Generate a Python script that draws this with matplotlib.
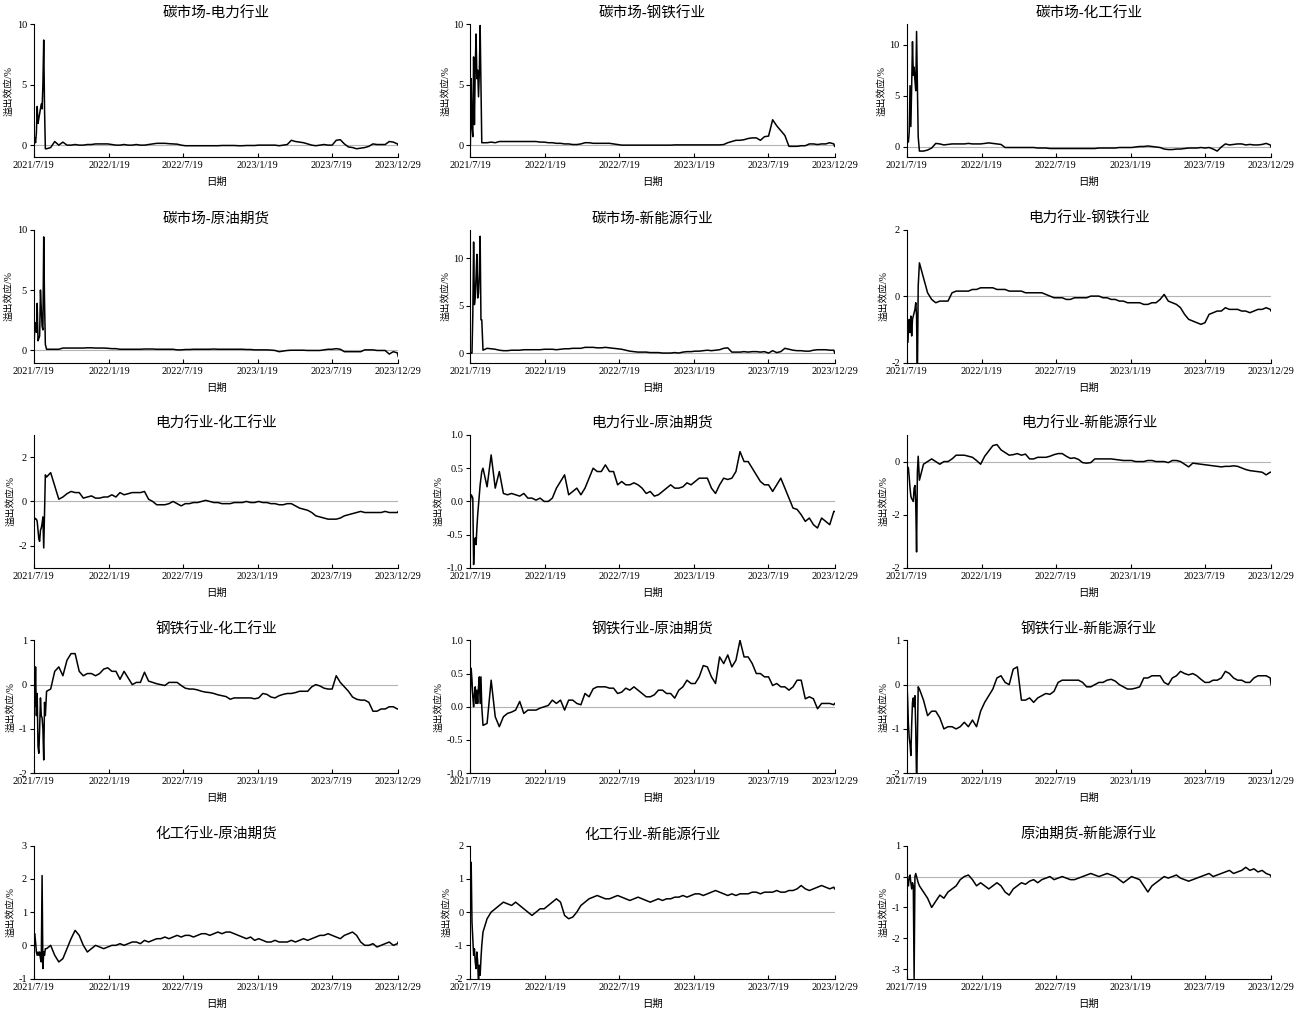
import numpy as np
import matplotlib.pyplot as plt

plt.rcParams['font.family'] = ['Liberation Serif', 'Noto Sans CJK SC']
plt.rcParams['axes.unicode_minus'] = False

# sampling grid: every 2 days for the first month, then every 10 days
start = np.datetime64('2021-07-19')
early_days = np.arange(0, 29, 2)
late_days = np.append(np.arange(31, 892, 10), 893)
dates = start + np.concatenate([early_days, late_days]).astype('timedelta64[D]')

tick_dates = np.array(['2021-07-19', '2022-01-19', '2022-07-19',
                       '2023-01-19', '2023-07-19', '2023-12-29'], dtype='datetime64[D]')
tick_labels = ['2021/7/19', '2022/1/19', '2022/7/19', '2023/1/19', '2023/7/19', '2023/12/29']

titles = ['碳市场-电力行业', '碳市场-钢铁行业', '碳市场-化工行业',
          '碳市场-原油期货', '碳市场-新能源行业', '电力行业-钢铁行业',
          '电力行业-化工行业', '电力行业-原油期货', '电力行业-新能源行业',
          '钢铁行业-化工行业', '钢铁行业-原油期货', '钢铁行业-新能源行业',
          '化工行业-原油期货', '化工行业-新能源行业', '原油期货-新能源行业']

# ---- spillover series (%) ----
s01 = [0.0, 0.6, 0.2, 1.0, 3.2, 1.8, 2.2, 2.6, 3.0, 3.4, 3.0, 5.0, 8.7, 3.0, -0.3,
       -0.3, -0.2, 0.3, 0.0, 0.25, 0.0, 0.0, 0.05, 0.0, 0.0,
       0.05, 0.05, 0.1, 0.1, 0.1, 0.1, 0.05, 0.0, 0.0, 0.05,
       0.0, 0.0, 0.05, 0.0, 0.0, 0.05, 0.1, 0.15, 0.15, 0.15,
       0.12, 0.1, 0.08, 0.0, -0.05, -0.05, -0.05, -0.05, -0.05, -0.05,
       -0.05, -0.05, -0.05, -0.03, -0.03, -0.03, -0.03, -0.05, -0.05, -0.03,
       -0.03, -0.03, 0.0, 0.0, 0.0, 0.0, 0.0, -0.05, 0.0, 0.05,
       0.4, 0.3, 0.25, 0.2, 0.1, 0.0, -0.05, 0.0, 0.05, 0.0,
       0.0, 0.4, 0.45, 0.1, -0.15, -0.2, -0.3, -0.25, -0.2, -0.1,
       0.1, 0.05, 0.05, 0.05, 0.3, 0.25, 0.1, 0.0]
s02 = [0.0, 5.5, 1.5, 0.7, 7.3, 1.7, 6.5, 9.2, 5.5, 6.2, 4.0, 6.0, 9.9, 5.0, 0.2,
       0.2, 0.2, 0.25, 0.2, 0.3, 0.3, 0.3, 0.3, 0.3, 0.3,
       0.3, 0.3, 0.3, 0.3, 0.25, 0.25, 0.2, 0.2, 0.15, 0.15,
       0.1, 0.1, 0.05, 0.05, 0.1, 0.2, 0.2, 0.15, 0.15, 0.15,
       0.15, 0.15, 0.1, 0.05, 0.0, 0.0, 0.0, 0.0, 0.0, 0.0,
       0.0, 0.0, 0.0, 0.0, 0.0, 0.0, 0.0, 0.02, 0.02, 0.02,
       0.02, 0.02, 0.02, 0.02, 0.02, 0.02, 0.02, 0.02, 0.02, 0.05,
       0.2, 0.3, 0.4, 0.4, 0.45, 0.55, 0.6, 0.6, 0.4, 0.7,
       0.75, 2.1, 1.6, 1.2, 0.8, -0.1, -0.1, -0.1, -0.05, -0.05,
       0.1, 0.1, 0.05, 0.1, 0.1, 0.2, 0.1, -0.1]
s03 = [0.0, 0.6, 0.5, 1.5, 6.0, 2.0, 6.0, 10.3, 7.0, 7.8, 6.5, 5.5, 11.3, 6.0, 1.0,
       -0.4, -0.4, -0.3, -0.1, 0.35, 0.3, 0.2, 0.25, 0.3, 0.3,
       0.3, 0.3, 0.35, 0.3, 0.3, 0.3, 0.35, 0.4, 0.35, 0.3,
       0.25, -0.05, -0.05, -0.05, -0.05, -0.05, -0.05, -0.05, -0.05, -0.1,
       -0.1, -0.1, -0.15, -0.15, -0.15, -0.15, -0.15, -0.15, -0.15, -0.15,
       -0.15, -0.15, -0.15, -0.15, -0.1, -0.1, -0.1, -0.1, -0.1, -0.05,
       -0.05, -0.05, -0.05, 0.0, 0.05, 0.05, 0.1, 0.05, 0.0, -0.05,
       -0.2, -0.25, -0.25, -0.2, -0.2, -0.15, -0.1, -0.1, -0.1, -0.05,
       -0.1, -0.05, -0.2, -0.4, 0.0, 0.3, 0.2, 0.25, 0.3, 0.3,
       0.2, 0.25, 0.2, 0.2, 0.25, 0.35, 0.2, 0.0]
s04 = [0.0, 2.0, 2.3, 1.5, 3.9, 0.8, 1.0, 1.2, 5.0, 3.5, 2.0, 1.7, 9.4, 4.0, 0.5,
       0.1, 0.1, 0.1, 0.1, 0.2, 0.2, 0.2, 0.2, 0.2, 0.2,
       0.22, 0.22, 0.2, 0.2, 0.2, 0.18, 0.15, 0.15, 0.1, 0.1,
       0.1, 0.1, 0.1, 0.1, 0.12, 0.12, 0.12, 0.1, 0.1, 0.1,
       0.1, 0.1, 0.05, 0.05, 0.08, 0.08, 0.1, 0.1, 0.1, 0.1,
       0.1, 0.12, 0.1, 0.1, 0.1, 0.1, 0.1, 0.1, 0.1, 0.08,
       0.08, 0.05, 0.05, 0.05, 0.05, 0.03, 0.0, -0.1, -0.05, 0.0,
       0.02, 0.02, 0.02, 0.02, 0.0, 0.0, 0.0, 0.0, 0.05, 0.1,
       0.1, 0.15, 0.1, -0.1, -0.1, -0.1, -0.1, -0.1, 0.05, 0.05,
       0.05, 0.0, 0.0, 0.0, -0.3, -0.1, -0.2, -0.5]
s05 = [0.0, 0.0, 0.0, 4.0, 11.7, 5.1, 6.0, 8.0, 10.4, 5.8, 6.3, 8.5, 12.3, 3.5, 3.5,
       0.3, 0.5, 0.45, 0.4, 0.3, 0.25, 0.25, 0.3, 0.3, 0.3,
       0.35, 0.35, 0.35, 0.35, 0.35, 0.4, 0.4, 0.4, 0.35, 0.4,
       0.45, 0.45, 0.5, 0.5, 0.5, 0.6, 0.6, 0.6, 0.55, 0.55,
       0.6, 0.55, 0.5, 0.45, 0.4, 0.3, 0.2, 0.15, 0.1, 0.1,
       0.1, 0.05, 0.05, 0.05, 0.0, 0.0, 0.0, 0.05, 0.0, 0.1,
       0.15, 0.15, 0.2, 0.2, 0.25, 0.3, 0.25, 0.3, 0.35, 0.5,
       0.55, 0.1, 0.1, 0.1, 0.15, 0.1, 0.15, 0.15, 0.1, 0.15,
       0.0, 0.25, 0.05, 0.15, 0.5, 0.4, 0.3, 0.25, 0.25, 0.2,
       0.2, 0.3, 0.35, 0.35, 0.35, 0.3, 0.3, 0.0]
s06 = [-0.5, -1.4, -1.0, -0.7, -1.1, -0.6, -1.2, -0.7, -0.6, -0.5, -0.4, -0.2, -0.6, -2.5, 0.3,
       1.0, 0.55, 0.1, -0.1, -0.2, -0.15, -0.15, -0.15, 0.1, 0.15,
       0.15, 0.15, 0.15, 0.2, 0.2, 0.25, 0.25, 0.25, 0.25, 0.2,
       0.2, 0.2, 0.15, 0.15, 0.15, 0.15, 0.1, 0.1, 0.1, 0.1,
       0.1, 0.05, 0.0, -0.05, -0.05, -0.05, -0.1, -0.1, -0.05, -0.05,
       -0.05, -0.05, 0.0, 0.0, 0.0, -0.05, -0.05, -0.1, -0.1, -0.15,
       -0.15, -0.2, -0.2, -0.2, -0.2, -0.25, -0.25, -0.2, -0.2, -0.1,
       0.05, -0.15, -0.2, -0.25, -0.35, -0.55, -0.7, -0.75, -0.8, -0.85,
       -0.8, -0.55, -0.5, -0.45, -0.45, -0.35, -0.4, -0.4, -0.4, -0.45,
       -0.45, -0.5, -0.45, -0.4, -0.4, -0.35, -0.4, -0.45]
s07 = [-0.7, -0.75, -0.8, -0.8, -0.9, -1.3, -1.7, -1.8, -1.3, -1.2, -1.0, -0.7, -2.1, -0.5, 1.2,
       1.1, 1.3, 0.7, 0.1, 0.2, 0.35, 0.45, 0.4, 0.4, 0.15,
       0.2, 0.25, 0.15, 0.15, 0.2, 0.2, 0.3, 0.2, 0.4, 0.3,
       0.35, 0.4, 0.4, 0.4, 0.45, 0.1, 0.0, -0.15, -0.15, -0.15,
       -0.1, 0.0, -0.1, -0.2, -0.1, -0.1, -0.05, -0.05, 0.0, 0.05,
       0.0, -0.05, -0.05, -0.1, -0.1, -0.1, -0.05, -0.05, -0.05, 0.0,
       -0.05, -0.05, 0.0, -0.05, -0.05, -0.1, -0.1, -0.15, -0.15, -0.1,
       -0.1, -0.2, -0.3, -0.35, -0.4, -0.5, -0.65, -0.7, -0.75, -0.8,
       -0.8, -0.8, -0.75, -0.65, -0.6, -0.55, -0.5, -0.45, -0.5, -0.5,
       -0.5, -0.5, -0.5, -0.45, -0.5, -0.5, -0.5, -0.45]
s08 = [0.0, 0.1, 0.08, 0.05, -0.95, -0.6, -0.55, -0.65, -0.4, -0.2, -0.05, 0.1, 0.25, 0.35, 0.45,
       0.5, 0.22, 0.7, 0.2, 0.45, 0.12, 0.1, 0.12, 0.1, 0.08,
       0.12, 0.05, 0.05, 0.02, 0.05, 0.0, 0.0, 0.05, 0.2, 0.3,
       0.4, 0.1, 0.15, 0.2, 0.1, 0.2, 0.35, 0.5, 0.45, 0.45,
       0.55, 0.45, 0.45, 0.25, 0.3, 0.25, 0.25, 0.28, 0.25, 0.2,
       0.12, 0.15, 0.08, 0.1, 0.15, 0.2, 0.25, 0.2, 0.2, 0.22,
       0.28, 0.25, 0.3, 0.35, 0.35, 0.35, 0.2, 0.12, 0.25, 0.35,
       0.33, 0.35, 0.45, 0.75, 0.6, 0.6, 0.5, 0.4, 0.3, 0.25,
       0.25, 0.15, 0.25, 0.35, 0.2, 0.05, -0.1, -0.12, -0.2, -0.3,
       -0.25, -0.35, -0.4, -0.25, -0.3, -0.35, -0.15, -0.15]
s09 = [-0.1, -0.1, -0.12, -0.3, -0.5, -0.65, -0.7, -0.72, -0.75, -0.5, -0.45, -0.8, -1.7, -0.2, 0.1,
       -0.35, -0.05, 0.0, 0.05, 0.0, -0.05, 0.0, 0.0, 0.05, 0.12,
       0.12, 0.12, 0.1, 0.08, 0.02, -0.05, 0.1, 0.2, 0.3, 0.32,
       0.22, 0.17, 0.12, 0.13, 0.15, 0.12, 0.14, 0.05, 0.05, 0.08,
       0.08, 0.08, 0.1, 0.13, 0.15, 0.15, 0.1, 0.06, 0.07, 0.04,
       -0.02, -0.03, -0.02, 0.05, 0.05, 0.05, 0.05, 0.05, 0.04, 0.03,
       0.02, 0.02, 0.02, 0.0, 0.0, 0.0, 0.02, 0.02, 0.0, 0.0,
       0.0, -0.02, 0.02, 0.02, 0.0, -0.05, -0.1, -0.03, -0.04, -0.05,
       -0.06, -0.07, -0.08, -0.09, -0.1, -0.09, -0.09, -0.08, -0.09, -0.12,
       -0.15, -0.17, -0.18, -0.19, -0.2, -0.25, -0.2, -0.2]
s10 = [0.5, -0.5, 0.4, -0.7, -0.2, -1.4, -1.55, -1.0, -0.3, -0.7, -0.75, -1.0, -1.7, -0.4, -0.7,
       -0.15, -0.1, 0.3, 0.4, 0.2, 0.55, 0.7, 0.7, 0.3, 0.2,
       0.25, 0.25, 0.2, 0.25, 0.35, 0.38, 0.3, 0.3, 0.12, 0.3,
       0.15, 0.0, 0.05, 0.05, 0.28, 0.08, 0.05, 0.02, 0.0, -0.02,
       0.05, 0.05, 0.05, -0.02, -0.08, -0.1, -0.1, -0.12, -0.15, -0.17,
       -0.18, -0.2, -0.23, -0.25, -0.27, -0.33, -0.3, -0.3, -0.3, -0.3,
       -0.3, -0.32, -0.3, -0.2, -0.22, -0.28, -0.3, -0.25, -0.22, -0.2,
       -0.2, -0.18, -0.15, -0.15, -0.15, -0.05, 0.0, -0.03, -0.08, -0.1,
       -0.1, 0.2, 0.05, -0.05, -0.15, -0.28, -0.33, -0.35, -0.35, -0.4,
       -0.6, -0.6, -0.55, -0.55, -0.5, -0.5, -0.55, -0.55]
s11 = [0.2, 0.58, 0.4, 0.15, 0.0, 0.2, 0.3, 0.05, 0.25, 0.05, 0.3, 0.45, 0.05, 0.45, 0.0,
       -0.28, -0.25, 0.4, -0.15, -0.3, -0.15, -0.1, -0.08, -0.05, 0.08,
       -0.1, -0.05, -0.05, -0.05, -0.02, 0.0, 0.02, 0.1, 0.05, 0.1,
       -0.05, 0.1, 0.1, 0.05, 0.03, 0.2, 0.15, 0.27, 0.3, 0.3,
       0.3, 0.28, 0.28, 0.2, 0.22, 0.28, 0.25, 0.3, 0.25, 0.2,
       0.15, 0.15, 0.18, 0.25, 0.25, 0.2, 0.2, 0.13, 0.25, 0.3,
       0.4, 0.35, 0.35, 0.45, 0.62, 0.6, 0.45, 0.35, 0.75, 0.65,
       0.78, 0.6, 0.7, 1.0, 0.75, 0.75, 0.65, 0.5, 0.5, 0.45,
       0.45, 0.32, 0.35, 0.3, 0.3, 0.25, 0.3, 0.4, 0.4, 0.12,
       0.15, 0.12, -0.03, 0.05, 0.05, 0.05, 0.03, 0.05]
s12 = [0.1, -0.3, -0.9, -1.2, -1.35, -1.6, -0.9, -0.4, -0.3, -0.5, -0.25, -1.0, -2.2, -1.3, -0.05,
       -0.1, -0.35, -0.7, -0.6, -0.6, -0.75, -1.0, -0.95, -0.95, -1.0,
       -0.95, -0.85, -0.95, -0.8, -0.95, -0.6, -0.4, -0.25, -0.1, 0.15,
       0.2, 0.05, 0.0, 0.35, 0.4, -0.35, -0.35, -0.3, -0.4, -0.3,
       -0.25, -0.2, -0.22, -0.15, 0.05, 0.1, 0.1, 0.1, 0.1, 0.1,
       0.05, -0.05, -0.05, 0.0, 0.05, 0.05, 0.1, 0.12, 0.08, 0.0,
       -0.05, -0.1, -0.1, -0.08, -0.05, 0.15, 0.15, 0.2, 0.2, 0.2,
       0.05, 0.0, 0.15, 0.2, 0.3, 0.25, 0.22, 0.25, 0.2, 0.12,
       0.05, 0.05, 0.1, 0.1, 0.15, 0.3, 0.25, 0.15, 0.1, 0.1,
       0.05, 0.05, 0.15, 0.2, 0.2, 0.2, 0.15, 0.0]
s13 = [0.3, 0.35, 0.1, -0.2, -0.3, -0.2, -0.3, -0.2, -0.4, -0.5, 2.1, -0.7, -0.2, -0.3, -0.1,
       -0.1, 0.0, -0.3, -0.5, -0.4, -0.1, 0.2, 0.45, 0.3, 0.0,
       -0.2, -0.1, 0.0, -0.05, -0.1, -0.05, 0.0, 0.0, 0.05, 0.0,
       0.05, 0.1, 0.1, 0.05, 0.15, 0.1, 0.15, 0.2, 0.2, 0.25,
       0.2, 0.25, 0.3, 0.25, 0.3, 0.3, 0.25, 0.3, 0.35, 0.35,
       0.3, 0.35, 0.4, 0.35, 0.4, 0.4, 0.35, 0.3, 0.25, 0.2,
       0.25, 0.15, 0.2, 0.15, 0.1, 0.1, 0.15, 0.1, 0.1, 0.1,
       0.15, 0.1, 0.15, 0.2, 0.15, 0.2, 0.25, 0.3, 0.3, 0.35,
       0.3, 0.25, 0.2, 0.3, 0.35, 0.4, 0.3, 0.1, 0.0, 0.0,
       0.05, -0.05, 0.0, 0.05, 0.1, 0.0, 0.05, 0.1]
s14 = [0.5, 1.5, -0.3, -0.8, -1.3, -1.1, -1.5, -1.7, -1.2, -1.5, -2.2, -1.6, -1.9, -1.4, -1.0,
       -0.6, -0.2, 0.0, 0.1, 0.2, 0.3, 0.25, 0.2, 0.3, 0.2,
       0.1, 0.0, -0.1, 0.0, 0.1, 0.1, 0.2, 0.3, 0.4, 0.3,
       -0.1, -0.2, -0.15, 0.0, 0.2, 0.3, 0.4, 0.45, 0.5, 0.45,
       0.4, 0.4, 0.45, 0.5, 0.45, 0.4, 0.35, 0.4, 0.45, 0.4,
       0.35, 0.3, 0.35, 0.4, 0.35, 0.4, 0.4, 0.45, 0.45, 0.5,
       0.45, 0.5, 0.55, 0.55, 0.5, 0.55, 0.6, 0.65, 0.6, 0.55,
       0.5, 0.55, 0.5, 0.55, 0.55, 0.55, 0.6, 0.6, 0.55, 0.6,
       0.6, 0.6, 0.65, 0.6, 0.6, 0.65, 0.65, 0.7, 0.8, 0.7,
       0.65, 0.7, 0.75, 0.8, 0.75, 0.7, 0.75, 0.7]
s15 = [0.0, -0.1, -0.3, 0.0, 0.05, -0.2, -0.4, -0.2, -0.3, -3.3, 0.0, 0.1, 0.0, -0.1, -0.2,
       -0.3, -0.5, -0.7, -1.0, -0.8, -0.6, -0.7, -0.5, -0.4, -0.3,
       -0.1, 0.0, 0.05, -0.1, -0.3, -0.2, -0.3, -0.4, -0.3, -0.2,
       -0.3, -0.5, -0.6, -0.4, -0.3, -0.2, -0.25, -0.15, -0.1, -0.2,
       -0.1, -0.05, 0.0, -0.1, -0.05, 0.0, -0.05, -0.1, -0.1, -0.05,
       0.0, 0.05, 0.1, 0.05, 0.0, 0.05, 0.1, 0.05, 0.0, -0.1,
       -0.2, -0.1, 0.0, -0.05, -0.1, -0.3, -0.5, -0.3, -0.2, -0.1,
       0.0, -0.05, 0.0, 0.05, -0.05, -0.1, -0.15, -0.1, -0.05, 0.0,
       0.05, 0.1, 0.0, 0.05, 0.1, 0.15, 0.2, 0.1, 0.15, 0.2,
       0.3, 0.2, 0.25, 0.15, 0.2, 0.1, 0.05, 0.0]
series = [s01, s02, s03, s04, s05, s06, s07, s08, s09, s10, s11, s12, s13, s14, s15]

ylims = [(-1, 10), (-1, 10), (-1, 12), (-1, 10), (-1, 13), (-2, 2),
         (-3, 3), (-1, 1), (-2, 0.5), (-2, 1), (-1, 1), (-2, 1),
         (-1, 3), (-2, 2), (-3.3, 1)]
yticks = [[0, 5, 10], [0, 5, 10], [0, 5, 10], [0, 5, 10], [0, 5, 10], [-2, 0, 2],
          [-2, 0, 2], [-1, -0.5, 0, 0.5, 1], [-2, -1, 0], [-2, -1, 0, 1],
          [-1, -0.5, 0, 0.5, 1], [-2, -1, 0, 1], [-1, 0, 1, 2, 3], [-2, -1, 0, 1, 2],
          [-3, -2, -1, 0, 1]]
ytick_labels = [None] * 15
ytick_labels[7] = ['-1.0', '-0.5', '0.0', '0.5', '1.0']
ytick_labels[10] = ['-1.0', '-0.5', '0.0', '0.5', '1.0']
ytick_labels[8] = ['-2', '-2', '0']

fig, axes = plt.subplots(5, 3, figsize=(13.05, 10.13), dpi=100)
fig.subplots_adjust(left=0.026, right=0.974, top=0.976, bottom=0.034,
                    wspace=0.198, hspace=0.545)

for i, ax in enumerate(axes.flat):
    ax.axhline(0, color='#b4b4b4', lw=0.8, zorder=1)
    ax.plot(dates, series[i], color='black', lw=1.1, zorder=2)
    ax.set_xlim(tick_dates[0], tick_dates[-1])
    ax.set_ylim(*ylims[i])
    ax.set_xticks(tick_dates)
    ax.set_xticklabels(tick_labels)
    ax.set_yticks(yticks[i])
    if ytick_labels[i] is not None:
        ax.set_yticklabels(ytick_labels[i])
    ax.spines['top'].set_visible(False)
    ax.spines['right'].set_visible(False)
    ax.spines['left'].set_linewidth(0.8)
    ax.spines['bottom'].set_linewidth(0.8)
    ax.tick_params(axis='x', direction='in', length=3, labelsize=7.5, pad=3)
    ax.tick_params(axis='y', direction='out', length=3, labelsize=7.5, pad=2)
    ax.set_title(titles[i], fontsize=10.5, pad=5)
    ax.set_xlabel('日期', fontsize=7.5, labelpad=5)
    ax.set_ylabel('溢出效应/%', fontsize=7, labelpad=2)

fig.savefig('out.png', dpi=100)
